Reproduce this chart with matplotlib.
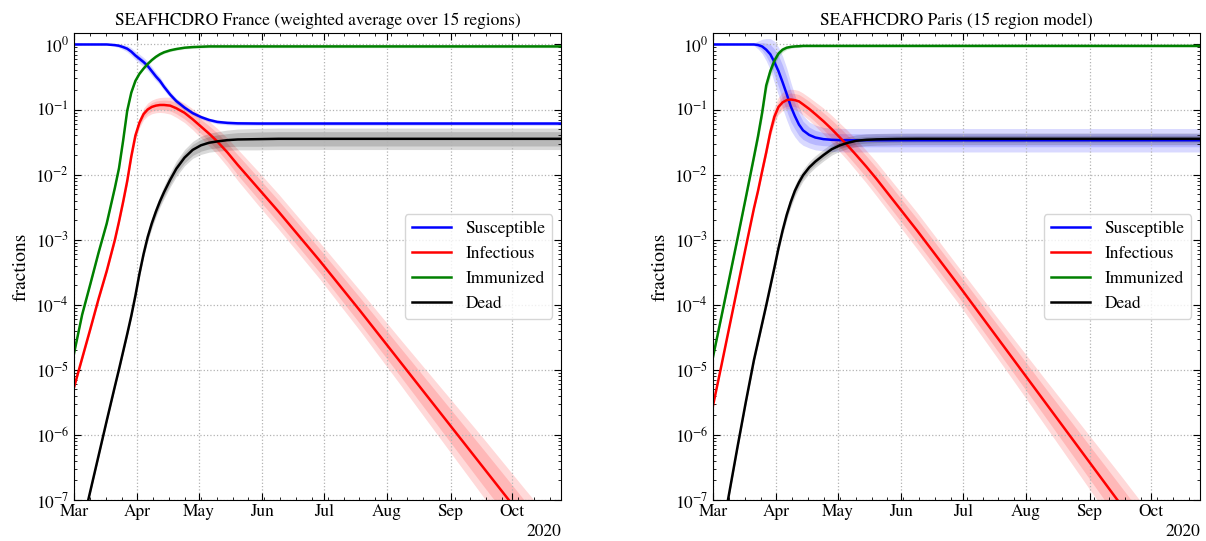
import numpy as np
import matplotlib
matplotlib.use('Agg')
import matplotlib.pyplot as plt
import matplotlib.dates as mdates
from matplotlib.ticker import AutoMinorLocator

plt.rcParams['font.family'] = ['STIXGeneral', 'DejaVu Serif']
plt.rcParams['mathtext.fontset'] = 'stix'
plt.rcParams['xtick.direction'] = 'in'
plt.rcParams['ytick.direction'] = 'in'
plt.rcParams['xtick.top'] = True
plt.rcParams['ytick.right'] = True

days = [0, 4, 8, 12, 16, 20, 22, 24, 26, 28, 30, 32, 34, 36, 38, 40, 42, 44, 47, 50,
        54, 58, 62, 66, 70, 75, 80, 90, 100, 120, 140, 160, 180, 200, 220, 238]

# ---- France (weighted average), log10 of the fractions ----
fr_S = [0, 0, 0, 0, 0, -0.01, -0.02, -0.04, -0.065, -0.11, -0.17, -0.22, -0.27, -0.33, -0.41, -0.49,
        -0.56, -0.65, -0.77, -0.87, -0.97, -1.055, -1.115, -1.16, -1.19, -1.205, -1.212, -1.215,
        -1.215, -1.215, -1.215, -1.215, -1.215, -1.215, -1.215, -1.215]
fr_I = [-5.27, -4.82, -4.37, -3.91, -3.48, -3.0, -2.72, -2.42, -2.1, -1.72, -1.4, -1.2, -1.07, -1.0,
        -0.96, -0.94, -0.93, -0.93, -0.94, -0.98, -1.05, -1.15, -1.26, -1.37, -1.49, -1.66, -1.85,
        -2.21, -2.57, -3.32, -4.1, -4.9, -5.7, -6.5, -7.3, -8.02]
fr_R = [-4.75, -4.15, -3.68, -3.2, -2.75, -2.2, -1.9, -1.48, -1.02, -0.74, -0.56, -0.45, -0.37, -0.3,
        -0.24, -0.19, -0.15, -0.12, -0.09, -0.07, -0.05, -0.04, -0.035, -0.03, -0.03, -0.03, -0.03,
        -0.03, -0.03, -0.03, -0.03, -0.03, -0.03, -0.03, -0.03, -0.03]
fr_D = [-7.95, -7.4, -6.86, -6.32, -5.78, -5.25, -4.99, -4.72, -4.45, -4.17, -3.86, -3.52, -3.22,
        -2.96, -2.75, -2.57, -2.41, -2.27, -2.08, -1.91, -1.74, -1.62, -1.55, -1.51, -1.49, -1.47,
        -1.46, -1.455, -1.45, -1.45, -1.45, -1.45, -1.45, -1.45, -1.45, -1.45]

# band half widths (decades): inner and outer quantile ranges
fr_S_in = [0.005] * 5 + [0.01, 0.015, 0.02, 0.025, 0.03, 0.035, 0.04, 0.04, 0.04, 0.04, 0.04,
                         0.035, 0.03, 0.03, 0.025, 0.02] + [0.015] * 15
fr_S_out = [0.01] * 5 + [0.02, 0.03, 0.04, 0.05, 0.06, 0.065, 0.07, 0.07, 0.07, 0.07, 0.065,
                         0.06, 0.055, 0.05, 0.045, 0.04] + [0.03] * 15
fr_I_in = [0.02] * 5 + [0.025, 0.03, 0.03, 0.035, 0.04, 0.045, 0.05, 0.055, 0.06, 0.065, 0.07,
                        0.07, 0.075, 0.08, 0.085, 0.095] + \
    [0.1, 0.11, 0.12, 0.13, 0.14, 0.155, 0.165, 0.17, 0.18, 0.2, 0.22, 0.25, 0.28, 0.3, 0.33]
fr_I_out = [0.04] * 5 + [0.045, 0.05, 0.05, 0.06, 0.065, 0.07, 0.08, 0.09, 0.1, 0.105, 0.11,
                         0.115, 0.12, 0.13, 0.14, 0.15] + \
    [0.16, 0.175, 0.19, 0.2, 0.22, 0.24, 0.26, 0.27, 0.28, 0.31, 0.35, 0.4, 0.45, 0.48, 0.52]
fr_R_in = [0.01] * 36
fr_R_out = [0.02] * 36
fr_D_in = [0.02] * 5 + [0.02, 0.02, 0.025, 0.025, 0.03, 0.03, 0.035, 0.04, 0.045, 0.05, 0.055,
                        0.06, 0.065, 0.07, 0.075, 0.08] + [0.085, 0.09, 0.095, 0.1, 0.1, 0.105] + [0.11] * 9
fr_D_out = [0.035] * 5 + [0.035, 0.035, 0.04, 0.04, 0.05, 0.05, 0.055, 0.06, 0.07, 0.08, 0.085,
                          0.09, 0.1, 0.11, 0.12, 0.125] + [0.13, 0.14, 0.145, 0.15, 0.155, 0.16] + [0.165] * 9

# ---- Paris (15 region model), log10 of the fractions ----
pa_S = [0, 0, 0, 0, 0, 0, -0.008, -0.03, -0.08, -0.15, -0.27, -0.41, -0.58, -0.76, -0.95, -1.1,
        -1.23, -1.32, -1.39, -1.43, -1.455, -1.465, -1.47] + [-1.472] * 13
pa_I = [-5.55, -4.95, -4.34, -3.73, -3.12, -2.52, -2.25, -1.95, -1.66, -1.35, -1.11, -0.96, -0.89,
        -0.855, -0.846, -0.855, -0.875, -0.92, -0.99, -1.07, -1.18, -1.3, -1.43, -1.56, -1.7, -1.88,
        -2.07, -2.47, -2.87, -3.7, -4.55, -5.4, -6.25, -7.1, -7.95, -8.7]
pa_R = [-4.8, -4.2, -3.59, -2.98, -2.36, -1.73, -1.41, -1.05, -0.63, -0.41, -0.25, -0.14, -0.08,
        -0.05, -0.037, -0.03, -0.027] + [-0.022] * 19
pa_D = [-8.25, -7.57, -6.88, -6.18, -5.5, -4.85, -4.57, -4.29, -4.01, -3.72, -3.43, -3.13, -2.86,
        -2.62, -2.42, -2.25, -2.12, -2.01, -1.89, -1.8, -1.7, -1.61, -1.55, -1.51, -1.48, -1.465,
        -1.458, -1.452] + [-1.45] * 8

pa_S_in = [0.005] * 5 + [0.01, 0.03, 0.06, 0.1, 0.15, 0.2, 0.24, 0.26, 0.26, 0.24, 0.2, 0.17,
                         0.14, 0.12, 0.11, 0.1] + [0.1] * 15
pa_S_out = [0.01] * 5 + [0.02, 0.06, 0.11, 0.17, 0.24, 0.32, 0.37, 0.4, 0.4, 0.37, 0.32, 0.27,
                         0.23, 0.2, 0.19, 0.18] + [0.18] * 15
pa_I_in = [0.02] * 5 + [0.03, 0.04, 0.05, 0.06, 0.07, 0.08, 0.085, 0.09, 0.095, 0.1, 0.1, 0.105,
                        0.11, 0.115, 0.12, 0.13] + \
    [0.14, 0.15, 0.155, 0.16, 0.165, 0.17, 0.175, 0.18, 0.18, 0.2, 0.22, 0.25, 0.28, 0.3, 0.33]
pa_I_out = [0.04] * 5 + [0.05, 0.06, 0.08, 0.09, 0.1, 0.12, 0.13, 0.14, 0.145, 0.15, 0.155, 0.16,
                         0.17, 0.175, 0.185, 0.2] + \
    [0.21, 0.22, 0.23, 0.24, 0.25, 0.26, 0.27, 0.28, 0.28, 0.31, 0.35, 0.4, 0.45, 0.48, 0.52]
pa_R_in = [0.02] * 5 + [0.03, 0.04, 0.05, 0.05, 0.045, 0.035, 0.025, 0.02, 0.015, 0.012, 0.01,
                        0.01, 0.01, 0.01, 0.01, 0.01] + [0.01] * 15
pa_R_out = [0.04] * 5 + [0.06, 0.08, 0.1, 0.1, 0.09, 0.07, 0.05, 0.04, 0.03, 0.025, 0.02,
                         0.02, 0.02, 0.02, 0.02, 0.02] + [0.02] * 15
pa_D_in = [0.03] * 11 + [0.035, 0.04, 0.045, 0.05] + [0.05] * 21
pa_D_out = [0.05] * 11 + [0.06, 0.07, 0.08, 0.085] + [0.09] * 21

labels = ['Susceptible', 'Infectious', 'Immunized', 'Dead']
colors = ['blue', 'red', 'green', 'black']

dates = np.datetime64('2020-03-01') + np.array(days).astype('timedelta64[D]')


def panel(ax, title, curves, bands):
    for lab, col, c, (w_in, w_out) in zip(labels, colors, curves, bands):
        c = np.array(c)
        w_in = np.array(w_in)
        w_out = np.array(w_out)
        ax.fill_between(dates, 10 ** (c - w_out), 10 ** (c + w_out), color=col, alpha=0.15, lw=0)
        ax.fill_between(dates, 10 ** (c - w_in), 10 ** (c + w_in), color=col, alpha=0.15, lw=0)
        ax.plot(dates, 10 ** c, color=col, lw=1.8, label=lab)
    ax.set_yscale('log')
    ax.set_ylim(1e-7, 1.5)
    ax.set_xlim(np.datetime64('2020-03-01'), np.datetime64('2020-10-25'))
    loc = mdates.MonthLocator()
    ax.xaxis.set_major_locator(loc)
    ax.xaxis.set_major_formatter(mdates.ConciseDateFormatter(loc))
    ax.xaxis.set_minor_locator(AutoMinorLocator(4))
    ax.tick_params(which='major', length=5, labelsize=12.5)
    ax.tick_params(axis='x', which='major', pad=3)
    ax.tick_params(which='minor', length=2.5)
    ax.xaxis.get_offset_text().set_fontsize(12.5)
    ax.grid(True, which='major', ls=':', color='0.7', lw=0.9)
    ax.set_ylabel('fractions', fontsize=14)
    ax.set_title(title, fontsize=12.5)
    ax.legend(loc='center right', fontsize=12.5, handlelength=2.3)


fig = plt.figure(figsize=(12.06, 5.41), dpi=100)
ax1 = fig.add_axes([74 / 1206, 41 / 541, 487 / 1206, 467 / 541])
ax2 = fig.add_axes([713 / 1206, 41 / 541, 487 / 1206, 467 / 541])

panel(ax1, 'SEAFHCDRO France (weighted average over 15 regions)',
      [fr_S, fr_I, fr_R, fr_D],
      [(fr_S_in, fr_S_out), (fr_I_in, fr_I_out), (fr_R_in, fr_R_out), (fr_D_in, fr_D_out)])
panel(ax2, 'SEAFHCDRO Paris (15 region model)',
      [pa_S, pa_I, pa_R, pa_D],
      [(pa_S_in, pa_S_out), (pa_I_in, pa_I_out), (pa_R_in, pa_R_out), (pa_D_in, pa_D_out)])

fig.savefig('out.png', dpi=100)
